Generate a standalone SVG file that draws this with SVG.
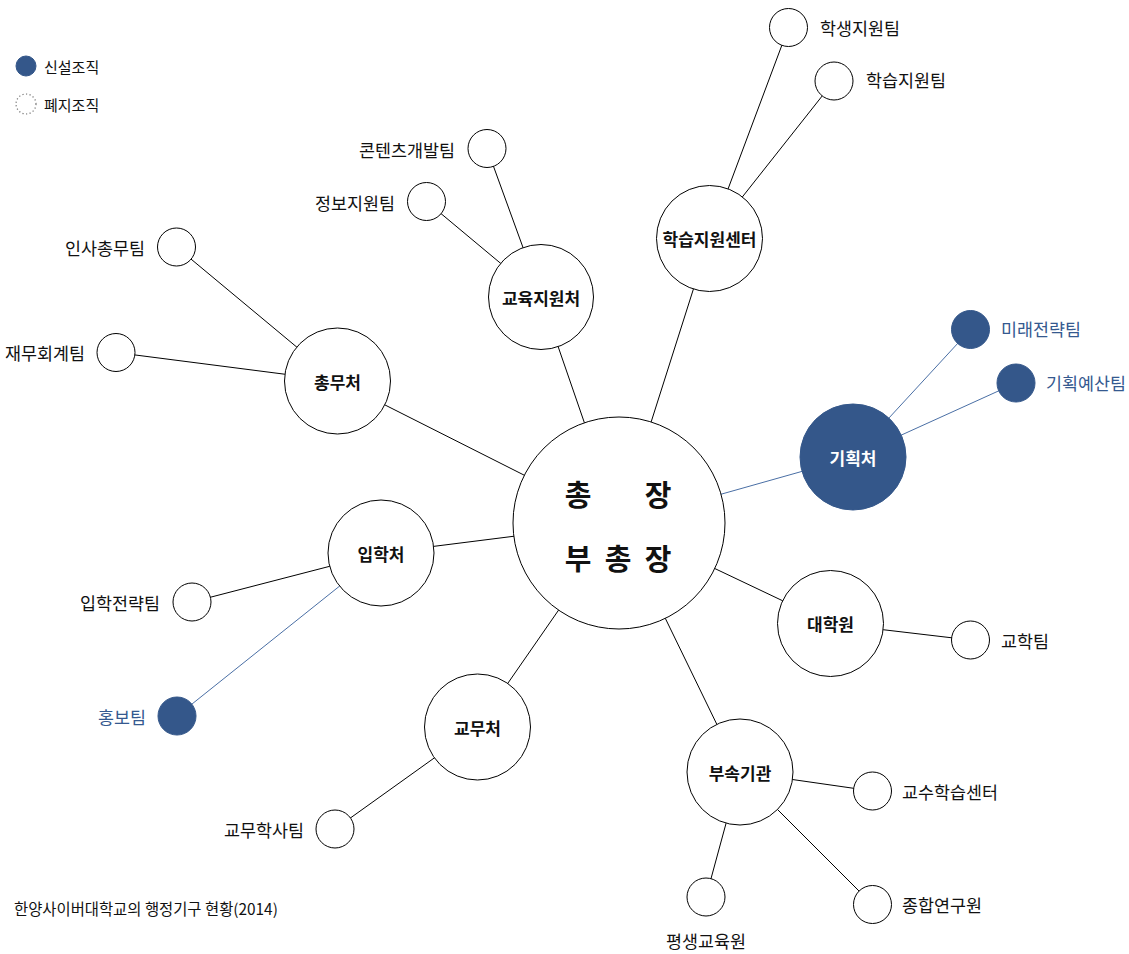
<svg xmlns="http://www.w3.org/2000/svg" width="1129" height="954" viewBox="0 0 1129 954">
<style>
text{font-family:"Noto Sans CJK KR","Noto Sans",sans-serif;fill:#111;dominant-baseline:central}
.lbl{font-size:17.4px}
.lblb{font-size:17.4px;fill:#35598f}
.nd{font-size:17px;font-weight:bold;text-anchor:middle}
.ndw{font-size:17px;font-weight:bold;text-anchor:middle;fill:#fff}
.big{font-size:29px;font-weight:bold;text-anchor:middle}
.c{fill:#fff;stroke:#000;stroke-width:1}
.cb{fill:#34578a;stroke:#34578a;stroke-width:1}
.ln{stroke:#000;stroke-width:1;fill:none}
.lnb{stroke:#4a6fa5;stroke-width:1;fill:none}
.e{text-anchor:end}
.m{text-anchor:middle}
</style>
<rect width="1129" height="954" fill="#fff"/>
<g id="connectors">
<line class="ln" x1="619" y1="523" x2="337.5" y2="381"/>
<line class="ln" x1="619" y1="523" x2="541" y2="297"/>
<line class="ln" x1="619" y1="523" x2="709.5" y2="238.5"/>
<line class="lnb" x1="619" y1="523" x2="853" y2="457"/>
<line class="ln" x1="619" y1="523" x2="381" y2="553"/>
<line class="ln" x1="619" y1="523" x2="830.5" y2="623.5"/>
<line class="ln" x1="619" y1="523" x2="477.5" y2="727"/>
<line class="ln" x1="619" y1="523" x2="740" y2="772"/>
<line class="ln" x1="709.5" y1="238.5" x2="788.5" y2="27.5"/>
<line class="ln" x1="709.5" y1="238.5" x2="834" y2="81"/>
<line class="ln" x1="541" y1="297" x2="487" y2="148.5"/>
<line class="ln" x1="541" y1="297" x2="426.5" y2="201.5"/>
<line class="ln" x1="337.5" y1="381" x2="176.5" y2="247"/>
<line class="ln" x1="337.5" y1="381" x2="116" y2="352.5"/>
<line class="lnb" x1="853" y1="457" x2="970.5" y2="329.5"/>
<line class="lnb" x1="853" y1="457" x2="1016" y2="383"/>
<line class="ln" x1="381" y1="553" x2="192" y2="602"/>
<line class="lnb" x1="381" y1="553" x2="177" y2="716"/>
<line class="ln" x1="830.5" y1="623.5" x2="970.5" y2="640"/>
<line class="ln" x1="477.5" y1="727" x2="335" y2="829"/>
<line class="ln" x1="740" y1="772" x2="872.5" y2="791"/>
<line class="ln" x1="740" y1="772" x2="872.5" y2="904.5"/>
<line class="ln" x1="740" y1="772" x2="706" y2="897"/>
</g>
<g id="legend">
<circle class="cb" cx="26" cy="66" r="10"/>
<text x="44" y="66" style="font-size:15px">신설조직</text>
<circle cx="26" cy="104" r="10" fill="none" stroke="#777" stroke-width="1.2" stroke-dasharray="1.2,2.4"/>
<text x="44" y="104" style="font-size:15px">폐지조직</text>
</g>
<g id="president">
<circle class="c" cx="619" cy="523" r="106"/>
<text class="big" x="578" y="493">총</text>
<text class="big" x="658" y="493">장</text>
<text class="big" x="578" y="557">부</text>
<text class="big" x="618" y="557">총</text>
<text class="big" x="658" y="557">장</text>
</g>
<g id="n-chongmu"><circle class="c" cx="337.5" cy="381" r="53"/><text class="nd" x="337.5" y="381">총무처</text></g>
<g id="n-gyoyuk"><circle class="c" cx="541" cy="297" r="52.5"/><text class="nd" x="541" y="297">교육지원처</text></g>
<g id="n-hakseup"><circle class="c" cx="709.5" cy="238.5" r="53"/><text class="nd" x="709.5" y="238.5">학습지원센터</text></g>
<g id="n-gihoek"><circle class="cb" cx="853" cy="457" r="53"/><text class="ndw" x="853" y="457">기획처</text></g>
<g id="n-iphak"><circle class="c" cx="381" cy="553" r="53"/><text class="nd" x="381" y="553">입학처</text></g>
<g id="n-daehakwon"><circle class="c" cx="830.5" cy="623.5" r="53"/><text class="nd" x="830.5" y="623.5">대학원</text></g>
<g id="n-gyomu"><circle class="c" cx="477.5" cy="727" r="53"/><text class="nd" x="477.5" y="727">교무처</text></g>
<g id="n-busok"><circle class="c" cx="740" cy="772" r="53"/><text class="nd" x="740" y="772">부속기관</text></g>
<g id="t-haksaeng"><circle class="c" cx="788.5" cy="27.5" r="19"/><text class="lbl" x="820" y="27">학생지원팀</text></g>
<g id="t-hakseup"><circle class="c" cx="834" cy="81" r="19"/><text class="lbl" x="866" y="79">학습지원팀</text></g>
<g id="t-content"><circle class="c" cx="487" cy="148.5" r="19"/><text class="lbl e" x="455" y="149">콘텐츠개발팀</text></g>
<g id="t-jeongbo"><circle class="c" cx="426.5" cy="201.5" r="19"/><text class="lbl e" x="395" y="202">정보지원팀</text></g>
<g id="t-insa"><circle class="c" cx="176.5" cy="247" r="19"/><text class="lbl e" x="145" y="247">인사총무팀</text></g>
<g id="t-jaemu"><circle class="c" cx="116" cy="352.5" r="19"/><text class="lbl e" x="85" y="352">재무회계팀</text></g>
<g id="t-mirae"><circle class="cb" cx="970.5" cy="329.5" r="19"/><text class="lblb" x="1001" y="328">미래전략팀</text></g>
<g id="t-yesan"><circle class="cb" cx="1016" cy="383" r="19"/><text class="lblb" x="1046" y="382">기획예산팀</text></g>
<g id="t-iphakjeollyak"><circle class="c" cx="192" cy="602" r="19"/><text class="lbl e" x="160" y="602">입학전략팀</text></g>
<g id="t-hongbo"><circle class="cb" cx="177" cy="716" r="19"/><text class="lblb e" x="146" y="716">홍보팀</text></g>
<g id="t-gyohak"><circle class="c" cx="970.5" cy="640" r="19"/><text class="lbl" x="1001" y="640">교학팀</text></g>
<g id="t-gyomuhaksa"><circle class="c" cx="335" cy="829" r="19"/><text class="lbl e" x="304" y="829">교무학사팀</text></g>
<g id="t-gyosu"><circle class="c" cx="872.5" cy="791" r="19"/><text class="lbl" x="902" y="791">교수학습센터</text></g>
<g id="t-jonghap"><circle class="c" cx="872.5" cy="904.5" r="19"/><text class="lbl" x="902" y="904">종합연구원</text></g>
<g id="t-pyeongsaeng"><circle class="c" cx="706" cy="897" r="19"/><text class="lbl m" x="706" y="940">평생교육원</text></g>
<text x="14" y="908" style="font-size:15.4px">한양사이버대학교의 행정기구 현황(2014)</text>
</svg>
